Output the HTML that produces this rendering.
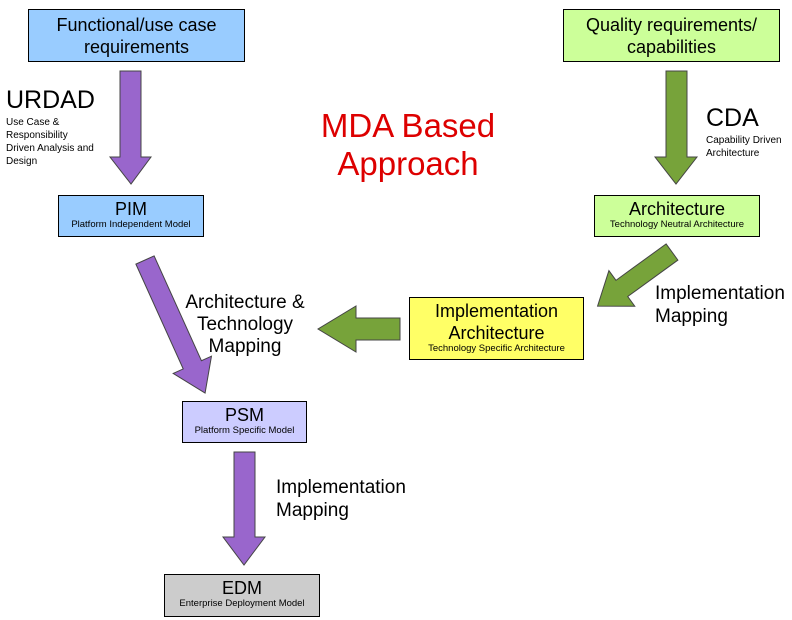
<!DOCTYPE html>
<html><head><style>
body{margin:0;width:792px;height:620px;background:#fff;position:relative;font-family:"Liberation Sans",sans-serif;overflow:hidden}
.b{position:absolute;border:1px solid #000;text-align:center;box-sizing:border-box;color:#000}
.t{position:absolute;color:#000;white-space:nowrap}
.s{font-size:9.5px;display:block;line-height:10px}
</style></head><body>
<svg width="792" height="620" style="position:absolute;left:0;top:0">
<g fill="#9966cc" stroke="#444" stroke-width="1">
<polygon points="120,71 141,71 141,157 151,157 131,184 110,157 120,157"/>
<polygon points="234,452 255,452 255,537 265,537 244,565 223,537 234,537"/>
<g transform="translate(145,260) rotate(-24.3)"><polygon points="-10,0 10,0 10,115 21,115 0,146 -21,115 -10,115"/></g>
</g>
<g fill="#77a33a" stroke="#444" stroke-width="1">
<polygon points="666,71 687,71 687,157 697,157 676,184 655,157 666,157"/>
<polygon points="400,318 400,340 356,340 356,352 318,329 356,306 356,318"/>
<g transform="translate(672,252) rotate(54)"><polygon points="-10,0 10,0 10,62 22,62 0,92 -22,62 -10,62"/></g>
</g>
</svg>
<div class="b" style="left:28px;top:9px;width:217px;height:53px;background:#99ccff;font-size:18px;line-height:22px;padding-top:4px">Functional/use case<br>requirements</div>
<div class="b" style="left:563px;top:9px;width:217px;height:53px;background:#ccff99;font-size:18px;line-height:22px;padding-top:4px">Quality requirements/<br>capabilities</div>
<div class="b" style="left:58px;top:195px;width:146px;height:42px;background:#99ccff;font-size:18px;padding-top:3px">PIM<span class="s">Platform Independent Model</span></div>
<div class="b" style="left:594px;top:195px;width:166px;height:42px;background:#ccff99;font-size:18px;padding-top:3px">Architecture<span class="s">Technology Neutral Architecture</span></div>
<div class="b" style="left:409px;top:297px;width:175px;height:63px;background:#ffff66;font-size:18px;line-height:22px;padding-top:2px">Implementation<br>Architecture<span class="s">Technology Specific Architecture</span></div>
<div class="b" style="left:182px;top:401px;width:125px;height:42px;background:#ccccff;font-size:18px;padding-top:3px">PSM<span class="s">Platform Specific Model</span></div>
<div class="b" style="left:164px;top:574px;width:156px;height:43px;background:#cccccc;font-size:18px;padding-top:3px">EDM<span class="s">Enterprise Deployment Model</span></div>
<div class="t" style="left:6px;top:86px;font-size:25px">URDAD</div>
<div class="t" style="left:6px;top:116px;font-size:10px;line-height:13px">Use Case &amp;<br>Responsibility<br>Driven Analysis and<br>Design</div>
<div class="t" style="left:706px;top:104px;font-size:25px">CDA</div>
<div class="t" style="left:706px;top:134px;font-size:10px;line-height:13px">Capability Driven<br>Architecture</div>
<div class="t" style="left:300px;top:107px;width:216px;text-align:center;font-size:33px;line-height:38px;color:#dd0000">MDA Based<br>Approach</div>
<div class="t" style="left:160px;top:292px;width:170px;text-align:center;font-size:19px;line-height:22px">Architecture &amp;<br>Technology<br>Mapping</div>
<div class="t" style="left:655px;top:282px;font-size:19px;line-height:23px">Implementation<br>Mapping</div>
<div class="t" style="left:276px;top:476px;font-size:19px;line-height:23px">Implementation<br>Mapping</div>
</body></html>
